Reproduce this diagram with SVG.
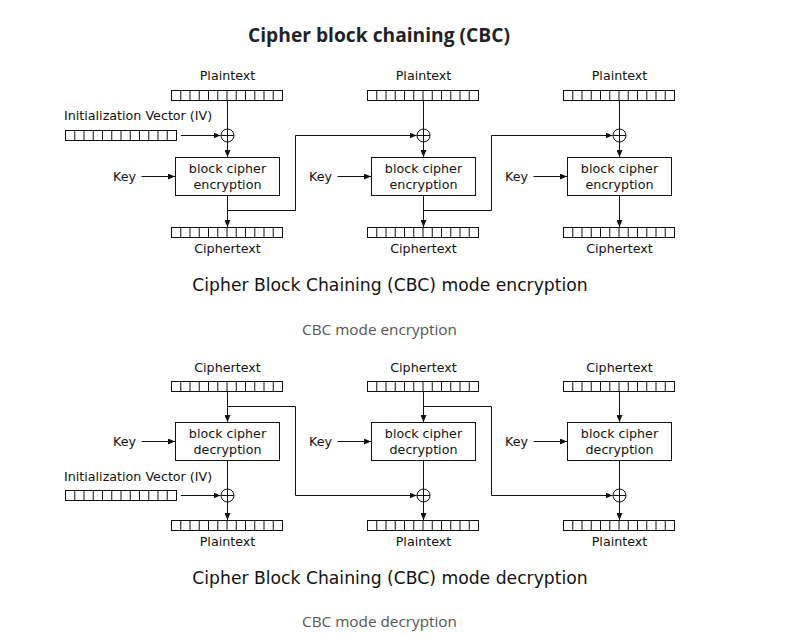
<svg xmlns="http://www.w3.org/2000/svg" xmlns:xlink="http://www.w3.org/1999/xlink" width="785" height="638" viewBox="0 0 785 638">
<style>
.ln{fill:none;stroke:#111;stroke-width:1}
.arr{fill:none;stroke:#111;stroke-width:1;marker-end:url(#ah)}
.box{fill:#fff;stroke:#111;stroke-width:1}
.t{font-family:"DejaVu Sans",sans-serif;font-size:12.7px;fill:#111}
.c{text-anchor:middle}
.cap{font-family:"DejaVu Sans",sans-serif;font-size:17.2px;fill:#111;text-anchor:middle}
.sub{font-family:"Open Sans","Noto Sans",sans-serif;font-size:15.3px;fill:#555;text-anchor:middle}
.title{font-family:"Open Sans","Noto Sans",sans-serif;font-size:19px;font-weight:bold;fill:#1f2328;text-anchor:middle}
</style>
<defs>
<marker id="ah" markerUnits="userSpaceOnUse" markerWidth="8" markerHeight="6" refX="7" refY="3" orient="auto">
<path d="M0,0 L7,3 L0,6 Z" fill="#111"/>
</marker>
<g id="bar">
<rect x="0" y="0" width="111" height="10" fill="#fff" stroke="#111" stroke-width="1"/>
<path d="M9.25,0V10M18.5,0V10M27.75,0V10M37,0V10M46.25,0V10M55.5,0V10M64.75,0V10M74,0V10M83.25,0V10M92.5,0V10M101.75,0V10" stroke="#111" stroke-width="1" fill="none"/>
</g>
<g id="xor">
<circle cx="0" cy="0" r="6.5" fill="none" stroke="#111" stroke-width="1"/>
<path d="M-6.5,0H6.5" stroke="#111" stroke-width="1"/>
</g>
</defs>

<text id="title" class="title" x="379" y="42" textLength="262" lengthAdjust="spacingAndGlyphs">Cipher block chaining (CBC)</text>

<!-- Connectors -->
<g id="connectors">
<!-- encryption -->
<path class="arr" d="M227.5,100.5V157"/>
<path class="arr" d="M423.5,100.5V157"/>
<path class="arr" d="M619.5,100.5V157"/>
<path class="arr" d="M181,135.5H220.5"/>
<path class="arr" d="M141.5,176.5H175"/>
<path class="arr" d="M337.5,176.5H371"/>
<path class="arr" d="M533.5,176.5H567"/>
<path class="arr" d="M227.5,195.5V227"/>
<path class="arr" d="M423.5,195.5V227"/>
<path class="arr" d="M619.5,195.5V227"/>
<path class="arr" d="M227.5,210.5H295.5V135.5H416.5"/>
<path class="arr" d="M423.5,210.5H491.5V135.5H612.5"/>
<!-- decryption -->
<path class="arr" d="M227.5,391.5V422"/>
<path class="arr" d="M423.5,391.5V422"/>
<path class="arr" d="M619.5,391.5V422"/>
<path class="arr" d="M141.5,441.5H175"/>
<path class="arr" d="M337.5,441.5H371"/>
<path class="arr" d="M533.5,441.5H567"/>
<path class="arr" d="M227.5,460.5V520"/>
<path class="arr" d="M423.5,460.5V520"/>
<path class="arr" d="M619.5,460.5V520"/>
<path class="arr" d="M181,495.5H220.5"/>
<path class="arr" d="M227.5,406.5H295.5V495.5H416.5"/>
<path class="arr" d="M423.5,406.5H491.5V495.5H612.5"/>
</g>

<!-- Encryption nodes -->
<g id="enc-iv">
<text class="t" x="64" y="120">Initialization Vector (IV)</text>
<use xlink:href="#bar" x="65.5" y="130.5"/>
</g>
<g id="enc-pt1"><text class="t c" x="227.5" y="80">Plaintext</text><use xlink:href="#bar" x="171.5" y="90.5"/></g>
<g id="enc-pt2"><text class="t c" x="423.5" y="80">Plaintext</text><use xlink:href="#bar" x="367.5" y="90.5"/></g>
<g id="enc-pt3"><text class="t c" x="619.5" y="80">Plaintext</text><use xlink:href="#bar" x="563.5" y="90.5"/></g>
<g id="enc-xor1"><use xlink:href="#xor" x="227.5" y="135.5"/></g>
<g id="enc-xor2"><use xlink:href="#xor" x="423.5" y="135.5"/></g>
<g id="enc-xor3"><use xlink:href="#xor" x="619.5" y="135.5"/></g>
<g id="enc-key1"><text class="t c" x="124.5" y="181">Key</text></g>
<g id="enc-key2"><text class="t c" x="320.5" y="181">Key</text></g>
<g id="enc-key3"><text class="t c" x="516.5" y="181">Key</text></g>
<g id="enc-box1"><rect class="box" x="175.5" y="157.5" width="104" height="38"/><text class="t c" x="227.5" y="172.5">block cipher</text><text class="t c" x="227.5" y="188.5">encryption</text></g>
<g id="enc-box2"><rect class="box" x="371.5" y="157.5" width="104" height="38"/><text class="t c" x="423.5" y="172.5">block cipher</text><text class="t c" x="423.5" y="188.5">encryption</text></g>
<g id="enc-box3"><rect class="box" x="567.5" y="157.5" width="104" height="38"/><text class="t c" x="619.5" y="172.5">block cipher</text><text class="t c" x="619.5" y="188.5">encryption</text></g>
<g id="enc-ct1"><use xlink:href="#bar" x="171.5" y="227.5"/><text class="t c" x="227.5" y="253">Ciphertext</text></g>
<g id="enc-ct2"><use xlink:href="#bar" x="367.5" y="227.5"/><text class="t c" x="423.5" y="253">Ciphertext</text></g>
<g id="enc-ct3"><use xlink:href="#bar" x="563.5" y="227.5"/><text class="t c" x="619.5" y="253">Ciphertext</text></g>

<text id="enc-caption" class="cap" x="390" y="291">Cipher Block Chaining (CBC) mode encryption</text>
<text id="enc-sub" class="sub" x="379.5" y="335">CBC mode encryption</text>

<!-- Decryption nodes -->
<g id="dec-ct1"><text class="t c" x="227.5" y="372">Ciphertext</text><use xlink:href="#bar" x="171.5" y="381.5"/></g>
<g id="dec-ct2"><text class="t c" x="423.5" y="372">Ciphertext</text><use xlink:href="#bar" x="367.5" y="381.5"/></g>
<g id="dec-ct3"><text class="t c" x="619.5" y="372">Ciphertext</text><use xlink:href="#bar" x="563.5" y="381.5"/></g>
<g id="dec-key1"><text class="t c" x="124.5" y="446">Key</text></g>
<g id="dec-key2"><text class="t c" x="320.5" y="446">Key</text></g>
<g id="dec-key3"><text class="t c" x="516.5" y="446">Key</text></g>
<g id="dec-box1"><rect class="box" x="175.5" y="422.5" width="104" height="38"/><text class="t c" x="227.5" y="437.5">block cipher</text><text class="t c" x="227.5" y="453.5">decryption</text></g>
<g id="dec-box2"><rect class="box" x="371.5" y="422.5" width="104" height="38"/><text class="t c" x="423.5" y="437.5">block cipher</text><text class="t c" x="423.5" y="453.5">decryption</text></g>
<g id="dec-box3"><rect class="box" x="567.5" y="422.5" width="104" height="38"/><text class="t c" x="619.5" y="437.5">block cipher</text><text class="t c" x="619.5" y="453.5">decryption</text></g>
<g id="dec-iv">
<text class="t" x="64" y="481">Initialization Vector (IV)</text>
<use xlink:href="#bar" x="65.5" y="490.5"/>
</g>
<g id="dec-xor1"><use xlink:href="#xor" x="227.5" y="495.5"/></g>
<g id="dec-xor2"><use xlink:href="#xor" x="423.5" y="495.5"/></g>
<g id="dec-xor3"><use xlink:href="#xor" x="619.5" y="495.5"/></g>
<g id="dec-pt1"><use xlink:href="#bar" x="171.5" y="520.5"/><text class="t c" x="227.5" y="546">Plaintext</text></g>
<g id="dec-pt2"><use xlink:href="#bar" x="367.5" y="520.5"/><text class="t c" x="423.5" y="546">Plaintext</text></g>
<g id="dec-pt3"><use xlink:href="#bar" x="563.5" y="520.5"/><text class="t c" x="619.5" y="546">Plaintext</text></g>

<text id="dec-caption" class="cap" x="390" y="584">Cipher Block Chaining (CBC) mode decryption</text>
<text id="dec-sub" class="sub" x="379.5" y="627">CBC mode decryption</text>
</svg>
